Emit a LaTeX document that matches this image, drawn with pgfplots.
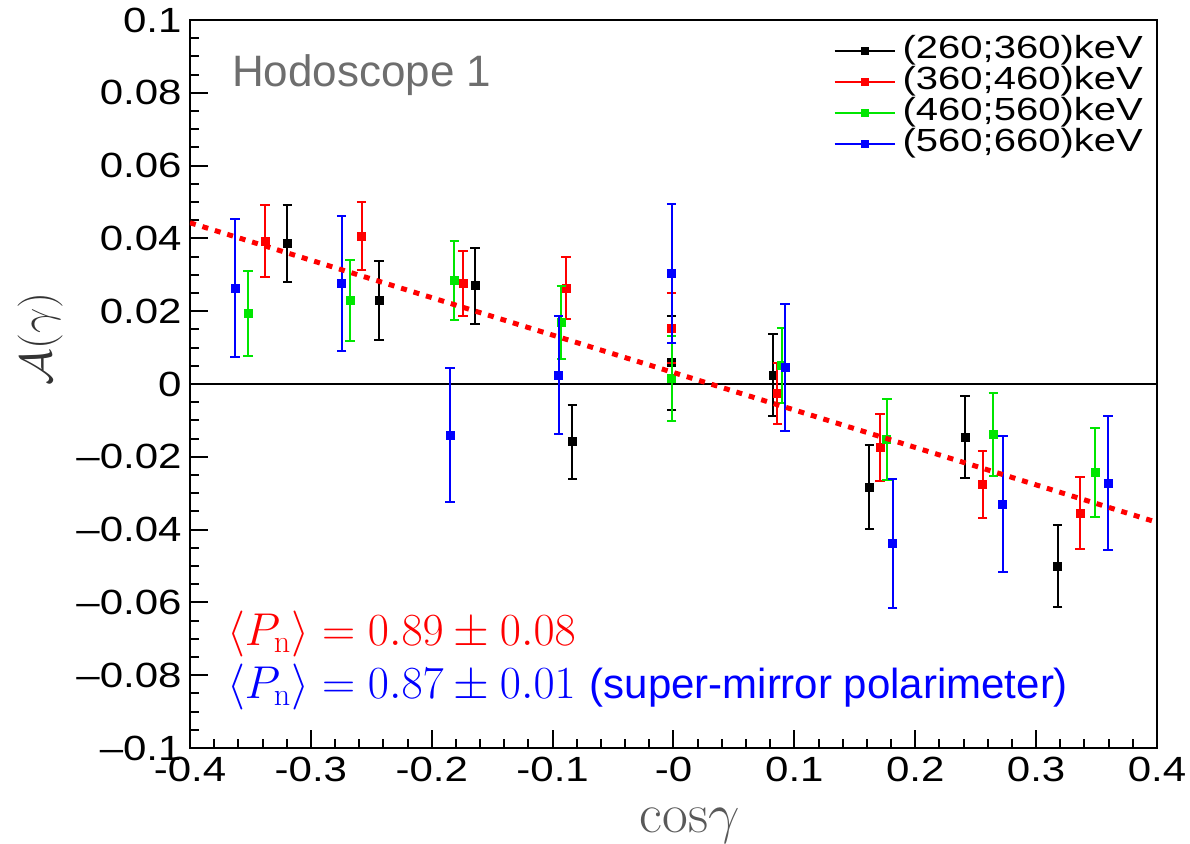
\documentclass[border=0pt]{standalone}
\usepackage{fix-cm}
\usepackage{graphicx}
\usepackage{pgfplots}
\usepackage{pgfplotstable}
\pgfplotsset{compat=1.18}
\usepackage{fontspec}
\setsansfont{Liberation Sans}
\definecolor{rgreen}{RGB}{0,230,0}
\definecolor{rblue}{RGB}{0,0,255}
\definecolor{rred}{RGB}{255,0,0}
\definecolor{hodo}{RGB}{110,110,110}

\pgfplotstableread{
x y ey
-0.3195 0.0387 0.0106
-0.2434 0.0229 0.0108
-0.1642 0.0270 0.0105
-0.0837 -0.0159 0.0102
-0.0015 0.0058 0.0130
0.0824 0.0025 0.0113
0.1621 -0.0283 0.0116
0.2412 -0.0146 0.0113
0.3178 -0.0500 0.0113
}\blackdata
\pgfplotstableread{
x y ey
-0.3380 0.0392 0.0099
-0.2580 0.0406 0.0093
-0.1740 0.0277 0.0089
-0.0889 0.0264 0.0086
-0.0015 0.0154 0.0095
0.0860 -0.0026 0.0085
0.1708 -0.0175 0.0092
0.2558 -0.0275 0.0092
0.3363 -0.0355 0.0099
}\reddata
\pgfplotstableread{
x y ey
-0.3518 0.0194 0.0116
-0.2676 0.0229 0.0112
-0.1813 0.0284 0.0109
-0.0928 0.0169 0.0099
-0.0015 0.0015 0.0116
0.0895 0.0051 0.0103
0.1764 -0.0152 0.0112
0.2646 -0.0139 0.0115
0.3487 -0.0242 0.0122
}\greendata
\pgfplotstableread{
x y ey
-0.3628 0.0264 0.0190
-0.2745 0.0276 0.0185
-0.1849 -0.0140 0.0183
-0.0950 0.0025 0.0163
-0.0015 0.0304 0.0190
0.0922 0.0045 0.0174
0.1813 -0.0439 0.0177
0.2724 -0.0330 0.0187
0.3597 -0.0272 0.0185
}\bluedata

\begin{document}
\begin{tikzpicture}
\begin{axis}[
  scale only axis, width=483.5pt, height=364pt,
  xmin=-0.4, xmax=0.4, ymin=-0.1, ymax=0.1,
  clip mode=individual,
  axis line style={line width=1.2pt},
  xtick={-0.4,-0.3,-0.2,-0.1,0,0.1,0.2,0.3,0.4},
  xticklabels={-0.4,-0.3,-0.2,-0.1,-0,0.1,0.2,0.3,0.4},
  ytick={-0.1,-0.08,-0.06,-0.04,-0.02,0,0.02,0.04,0.06,0.08,0.1},
  yticklabels={--0.1,--0.08,--0.06,--0.04,--0.02,0,0.02,0.04,0.06,0.08,0.1},
  minor x tick num=4, minor y tick num=3,
  tick align=inside, xtick pos=bottom, ytick pos=left,
  major tick length=9pt, minor tick length=4.5pt,
  tick style={line width=1pt, black},
  every tick label/.append style={font=\sffamily\fontsize{17.5}{20}\selectfont, xscale=1.2},
  xticklabel style={yshift=-1pt},
  legend style={at={(rel axis cs:0.993,0.985)}, anchor=north east, draw=none, fill=none,
    font=\sffamily\fontsize{16}{16}\selectfont, row sep=0pt,
    nodes={inner sep=0.5pt, text height=11pt, text depth=3.5pt}},
  legend cell align=left,
  legend image code/.code={\draw[sharp plot, line width=1pt, mark repeat=2, mark phase=2, mark size=1.5pt] plot coordinates {(0pt,0pt) (15pt,0pt) (30pt,0pt)};},
  error bars/y dir=both, error bars/y explicit,
  error bars/error bar style={line width=1pt},
  error bars/error mark=-,
  error bars/error mark options={rotate=90, line width=1pt, mark size=2.4pt},
]
\addplot[black, line width=1pt, forget plot] coordinates {(-0.4,0) (0.4,0)};
\addplot[black, only marks, mark=square*, mark size=2pt] table[x=x, y=y, y error=ey] {\blackdata};
\addlegendentry{\hspace{3pt}\scalebox{1.25}[1]{(260;360)keV}}
\addplot[rred, only marks, mark=square*, mark size=2pt] table[x=x, y=y, y error=ey] {\reddata};
\addlegendentry{\hspace{3pt}\scalebox{1.25}[1]{(360;460)keV}}
\addplot[rgreen, only marks, mark=square*, mark size=2pt] table[x=x, y=y, y error=ey] {\greendata};
\addlegendentry{\hspace{3pt}\scalebox{1.25}[1]{(460;560)keV}}
\addplot[rblue, only marks, mark=square*, mark size=2pt] table[x=x, y=y, y error=ey] {\bluedata};
\addlegendentry{\hspace{3pt}\scalebox{1.25}[1]{(560;660)keV}}
\addplot[rred, line width=2.5pt, dash pattern=on 3pt off 3.5pt, forget plot] coordinates {(-0.4,0.0443) (0.4,-0.038)};

\node[anchor=west, text=hodo, font=\sffamily\fontsize{22}{24}\selectfont] at (axis cs:-0.371,0.0848) {Hodoscope 1};
\node[anchor=west, text=rred, font=\fontsize{23}{26}\selectfont] at (axis cs:-0.3752,-0.0686) {$\langle P_{\mathrm{n}}\rangle = 0.89 \pm 0.08$};
\node[anchor=west, text=rblue, font=\fontsize{23}{26}\selectfont] at (axis cs:-0.3752,-0.0832) {$\langle P_{\mathrm{n}}\rangle = 0.87 \pm 0.01$ {\sffamily\fontsize{21}{24}\selectfont (super-mirror polarimeter)}};
\node[rotate=90, text=black!80, font=\fontsize{22.5}{26}\selectfont] at (axis description cs:-0.155,0.562) {$\mathcal{A}(\gamma)$};
\node[text=black!65, font=\fontsize{28}{32}\selectfont] at (axis description cs:0.517,-0.107) {$\mathrm{cos}\gamma$};
\end{axis}
\pgfresetboundingbox
\path[use as bounding box] (-95pt,-47.5pt) rectangle (500pt,374pt);
\end{tikzpicture}
\end{document}
